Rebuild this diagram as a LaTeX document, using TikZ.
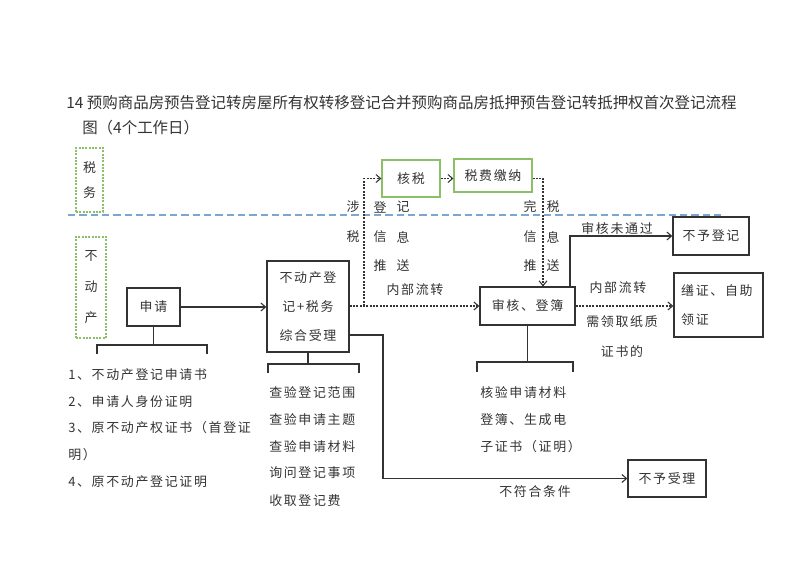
\documentclass[tikz,border=0pt]{standalone}
\usepackage{fontspec}
\setmainfont{Noto Sans CJK SC}
\newfontfamily\bodyf[LetterSpace=13]{Noto Sans CJK SC}
\newfontfamily\titlef{Noto Sans CJK SC}
\usetikzlibrary{arrows.meta}
\definecolor{ink}{HTML}{333333}
\definecolor{gboxc}{HTML}{8CC068}
\definecolor{bline}{HTML}{7EA6CE}
\begin{document}
\begin{tikzpicture}[x=0.75pt,y=-0.75pt,
  font=\bodyf\fontsize{9.7}{11}\selectfont, text=ink,
  box/.style={draw=ink, line width=1pt, inner sep=0pt, align=center},
  greenbox/.style={draw=gboxc, line width=0.9pt, inner sep=0pt, align=center},
  greendash/.style={draw=gboxc, line width=0.8pt, dash pattern=on 1.5pt off 1pt, inner sep=0pt, align=center},
  lbl/.style={inner sep=0pt},
  lleft/.style={inner sep=0pt, anchor=west},
  conn/.style={draw=ink, line width=0.8pt},
  arr/.style={conn, -{Straight Barb[length=3.5pt,width=6pt]}},
  darr/.style={arr, dash pattern=on 1.5pt off 1pt},
]
\useasboundingbox (0,0) rectangle (800,566);

% title
\node[lleft, font=\titlef\fontsize{11.6}{14}\selectfont] (t1) at (66,103) {14 预购商品房预告登记转房屋所有权转移登记合并预购商品房抵押预告登记转抵押权首次登记流程};
\node[lleft, font=\titlef\fontsize{11.6}{14}\selectfont] (t2) at (82,128) {图（4个工作日）};

% lanes
\node[greendash, minimum width=20.25pt, minimum height=48pt, font=\bodyf\fontsize{9.7}{18.75}\selectfont] (sw) at (89.5,180) {税\\务};
\node[greendash, minimum width=22.5pt, minimum height=75.75pt, font=\bodyf\fontsize{9.7}{23.25}\selectfont] (bdc) at (91,287.5) {不\\动\\产};
\draw[bline, line width=1pt, dash pattern=on 5.5pt off 3pt] (68,215) -- (724,215);

% boxes
\node[box, minimum width=39.75pt, minimum height=28.5pt] (sq) at (153.5,307) {申请};
\node[box, minimum width=61.5pt, minimum height=68.25pt, font=\bodyf\fontsize{9.7}{22}\selectfont] (zh) at (308,306.5) {不动产登\\记+税务\\综合受理};
\node[greenbox, minimum width=43.5pt, minimum height=27.75pt] (hs) at (411,178.5) {核税};
\node[greenbox, minimum width=58.5pt, minimum height=24.75pt] (sf) at (493,175.5) {税费缴纳};
\node[box, minimum width=71.25pt, minimum height=28.5pt] (sh) at (527.5,306) {审核、登簿};
\node[box, minimum width=57pt, minimum height=28.5pt] (bd) at (711,236) {不予登记};
\node[box, minimum width=66.75pt, minimum height=48pt, text width=56pt, align=left, font=\bodyf\fontsize{9.7}{22}\selectfont] (sz) at (718.5,305) {缮证、自助\\领证};
\node[box, minimum width=58.5pt, minimum height=27.75pt] (bs) at (667,478.5) {不予受理};

% junction coordinates
\coordinate (j1) at (364,306);
\coordinate (j2) at (543,178.5);
\coordinate (j3) at (570,287);
\coordinate (j4) at (383,335);

% connectors
\draw[arr] (sq.east) -- (zh.west |- sq.east);
\draw[darr] (zh.east |- sh.west) -- (sh.west);
\draw[darr] (j1) |- (hs.west);
\draw[darr] (hs.east) -- (hs.east -| sf.west);
\draw[darr] (sf.east |- j2) -- (j2) -- (j2 |- sh.north);
\draw[arr] (j3) |- (bd.west);
\draw[darr] (sh.east) -- (sz.west |- sh.east);
\draw[arr] (zh.east |- j4) -- (j4) |- (bs.west);

% brackets
\draw[conn] (sq.south) -- (sq.south |- 0,345);
\draw[conn] (97,354) -- (97,345) -- (207,345) -- (207,354);
\draw[conn] (zh.south) -- (zh.south |- 0,364);
\draw[conn] (268,373) -- (268,364) -- (359,364) -- (359,373);
\draw[conn] (sh.south) -- (sh.south |- 0,362);
\draw[conn] (477,372) -- (477,362) -- (573,362) -- (573,372);

% tax flow labels
\node[lbl] (a1) at (353,207) {涉};
\node[lbl] (a2) at (353,237) {税};
\node[lbl] (b1) at (380,207) {登};
\node[lbl] (b2) at (403,207) {记};
\node[lbl] (b3) at (380,237) {信};
\node[lbl] (b4) at (403,237) {息};
\node[lbl] (b5) at (380,266) {推};
\node[lbl] (b6) at (403,266) {送};
\node[lbl] (b7) at (415,290) {内部流转};
\node[lbl] (c1) at (530,207) {完};
\node[lbl] (c2) at (553,207) {税};
\node[lbl] (c3) at (530,237) {信};
\node[lbl] (c4) at (553,237) {息};
\node[lbl] (c5) at (530,266) {推};
\node[lbl] (c6) at (553,266) {送};

\node[lbl] (d1) at (617,229) {审核未通过};
\node[lbl] (d2) at (618,288) {内部流转};
\node[lbl] (d3) at (622,322) {需领取纸质};
\node[lbl] (d4) at (622,352) {证书的};
\node[lbl] (d5) at (535,492) {不符合条件};

% lists
\node[lleft] (l1) at (68,375) {1、不动产登记申请书};
\node[lleft] (l2) at (68,402) {2、申请人身份证明};
\node[lleft] (l3) at (68,428) {3、原不动产权证书（首登证};
\node[lleft] (l4) at (68,455) {明）};
\node[lleft] (l5) at (68,482) {4、原不动产登记证明};

\node[lleft] (m1) at (269,393) {查验登记范围};
\node[lleft] (m2) at (269,420) {查验申请主题};
\node[lleft] (m3) at (269,447) {查验申请材料};
\node[lleft] (m4) at (269,473) {询问登记事项};
\node[lleft] (m5) at (269,501) {收取登记费};

\node[lleft] (n1) at (480,393) {核验申请材料};
\node[lleft] (n2) at (480,420) {登簿、生成电};
\node[lleft] (n3) at (480,447) {子证书（证明）};
\end{tikzpicture}
\end{document}
